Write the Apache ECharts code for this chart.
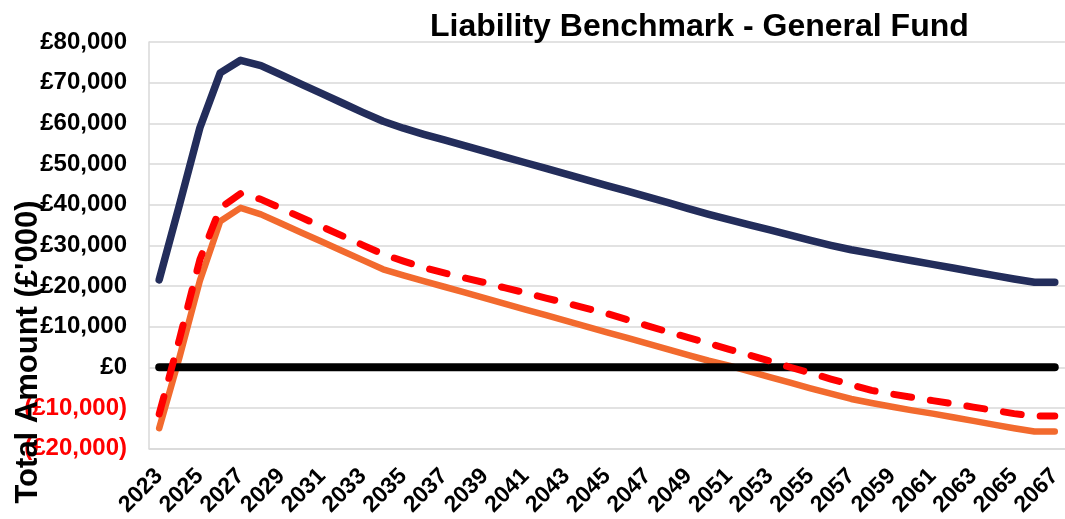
<!DOCTYPE html>
<html>
<head>
<meta charset="utf-8">
<script src="https://cdn.jsdelivr.net/npm/echarts@6/dist/echarts.min.js"></script>
<style>
html,body{margin:0;padding:0;background:#fff;}
#chart{width:1065px;height:519px;}
</style>
</head>
<body>
<div id="chart"></div>
<script>
// ---- data ----
const years = [];
for (let y = 2023; y <= 2067; y++) years.push(String(y));

const navySeries = [
  21500, 40000, 58900, 72400, 75500, 74200, 71900, 69600, 67300, 65000,
  62700, 60500, 58800, 57300, 55900, 54500, 53100, 51700, 50300, 48900,
  47500, 46100, 44700, 43300, 41900, 40500, 39000, 37600, 36300, 35000,
  33800, 32500, 31200, 30000, 28900, 28000, 27100, 26200, 25300, 24400,
  23500, 22600, 21700, 20900, 20900
];
const orangeSeries = [
  -15000, 2500, 21300, 35900, 39200, 37600, 35350, 33100, 30850, 28600,
  26350, 24100, 22600, 21200, 19800, 18400, 17000, 15600, 14200, 12800,
  11400, 10000, 8600, 7200, 5800, 4400, 3000, 1600, 400, -1000,
  -2400, -3800, -5200, -6500, -7800, -8800, -9700, -10600, -11400, -12300,
  -13200, -14100, -15000, -15800, -15800
];
const redSeries = [
  -11500, 7000, 26500, 39200, 42700, 41300, 39050, 36800, 34550, 32300,
  30050, 27800, 26100, 24500, 23200, 22000, 20800, 19500, 18300, 17000,
  15800, 14500, 13200, 11700, 10200, 8700, 7300, 5900, 4400, 3000,
  1500, 0, -1400, -2900, -4300, -5700, -6600, -7400, -8200, -9000,
  -9800, -10600, -11400, -12000, -12000
];
const zeroSeries = years.map(() => 0);

const yMin = -20000, yMax = 80000, yStep = 10000;
const titleText = 'Liability Benchmark - General Fund';
const yAxisTitle = "Total Amount (£'000)";

function fmt(v) {
  const s = '£' + Math.abs(v).toLocaleString('en-GB');
  return v < 0 ? '(' + s + ')' : s;
}

const chart = echarts.init(document.getElementById('chart'), null, {renderer: 'canvas'});
const FONT = '"Liberation Sans", Arial, sans-serif';
chart.setOption({
  animation: false,
  backgroundColor: '#ffffff',
  title: {
    text: titleText,
    left: 425,
    top: 6,
    textStyle: {fontFamily: FONT, fontWeight: 'bold', fontSize: 32, color: '#000'}
  },
  grid: {left: 149, top: 42, width: 918, height: 407.5, containLabel: false},
  xAxis: {
    type: 'category',
    data: years,
    boundaryGap: true,
    axisLine: {show: true, onZero: false, lineStyle: {color: '#d9d9d9', width: 1.5}},
    axisTick: {show: false},
    axisLabel: {
      interval: 1,
      rotate: 45,
      margin: 24,
      hideOverlap: false,
      fontFamily: FONT, fontWeight: 'bold', fontSize: 23, color: '#000'
    },
    splitLine: {show: false}
  },
  yAxis: {
    type: 'value',
    min: yMin, max: yMax, interval: yStep,
    axisLine: {show: true, lineStyle: {color: '#d9d9d9', width: 1.5}},
    axisTick: {show: false},
    splitLine: {show: true, lineStyle: {color: '#d9d9d9', width: 1.5}},
    axisLabel: {
      margin: 22,
      formatter: fmt,
      color: (v) => (Number(v) < 0 ? '#ff0000' : '#000000'),
      fontFamily: FONT, fontWeight: 'bold', fontSize: 24
    }
  },
  graphic: [{
    type: 'text',
    x: 28, y: 352,
    rotation: Math.PI / 2,
    style: {
      text: yAxisTitle,
      fontFamily: FONT, fontWeight: 'bold', fontSize: 31,
      fill: '#000',
      align: 'center', verticalAlign: 'middle'
    },
    z: 10
  }],
  series: [
    {
      name: 'Navy', type: 'line', data: navySeries, symbol: 'none',
      lineStyle: {color: '#232d5b', width: 7.5, cap: 'round', join: 'round'}, z: 2
    },
    {
      name: 'Orange', type: 'line', data: orangeSeries, symbol: 'none',
      lineStyle: {color: '#f26a2e', width: 6.5, cap: 'round', join: 'round'}, z: 3
    },
    {
      name: 'Zero', type: 'line', data: zeroSeries, symbol: 'none',
      lineStyle: {color: '#000000', width: 8, cap: 'round'}, z: 4
    },
    {
      name: 'Red', type: 'line', data: redSeries, symbol: 'none',
      lineStyle: {color: '#ff0000', width: 7, type: [18, 19], cap: 'round', join: 'round'}, z: 5
    }
  ]
});
</script>
</body>
</html>
